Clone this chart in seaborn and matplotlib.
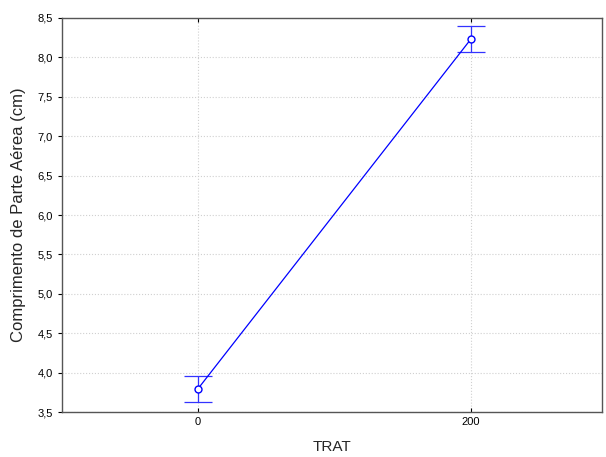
import matplotlib
matplotlib.use("Agg")
import matplotlib.pyplot as plt
import seaborn as sns
import pandas as pd

# chart data
trat = ["0", "200"]
means = [3.80, 8.23]
lower = [3.63, 8.07]
upper = [3.96, 8.40]
yticks = [3.5, 4.0, 4.5, 5.0, 5.5, 6.0, 6.5, 7.0, 7.5, 8.0, 8.5]

sns.set_style("white")
plt.rcParams['font.family'] = ['Liberation Sans', 'DejaVu Sans']

df = pd.DataFrame({"TRAT": trat, "mean": means, "pos": range(len(trat))})

fig, ax = plt.subplots(figsize=(6.06, 4.57), dpi=100)
fig.subplots_adjust(left=0.102, right=0.993, top=0.961, bottom=0.098)

blue = "#0000ff"
sns.lineplot(data=df, x="pos", y="mean", color=blue, lw=0.9, marker="o",
             markersize=5, markerfacecolor="white", markeredgecolor=blue,
             markeredgewidth=1, ax=ax, zorder=3)
yerr = [[m - l for m, l in zip(means, lower)], [u - m for m, u in zip(means, upper)]]
ax.errorbar(df["pos"], means, yerr=yerr, fmt="none", ecolor="#3333ff",
            elinewidth=0.9, capsize=10, capthick=0.9, zorder=2)

ax.set_xlim(-0.5, 1.48)
ax.set_ylim(3.5, 8.5)
ax.set_xticks(range(len(trat)))
ax.set_xticklabels(trat)
ax.set_yticks(yticks)
ax.set_yticklabels([f"{v:.1f}".replace(".", ",") for v in yticks])
ax.grid(True, color="#d0d0d0", linestyle=":", linewidth=0.8)
ax.tick_params(axis="both", labelsize=8, length=3, width=0.8, colors="black")
ax.tick_params(axis="x", direction="in", top=True, bottom=True)
ax.tick_params(axis="y", direction="out", left=True)
for s in ax.spines.values():
    s.set_color("#555555")
    s.set_linewidth(1)

ax.set_xlabel("TRAT", fontsize=11, labelpad=9)
ax.set_ylabel("Comprimento de Parte Aérea (cm)", fontsize=12, labelpad=8)

fig.savefig("out.png", dpi=100)
